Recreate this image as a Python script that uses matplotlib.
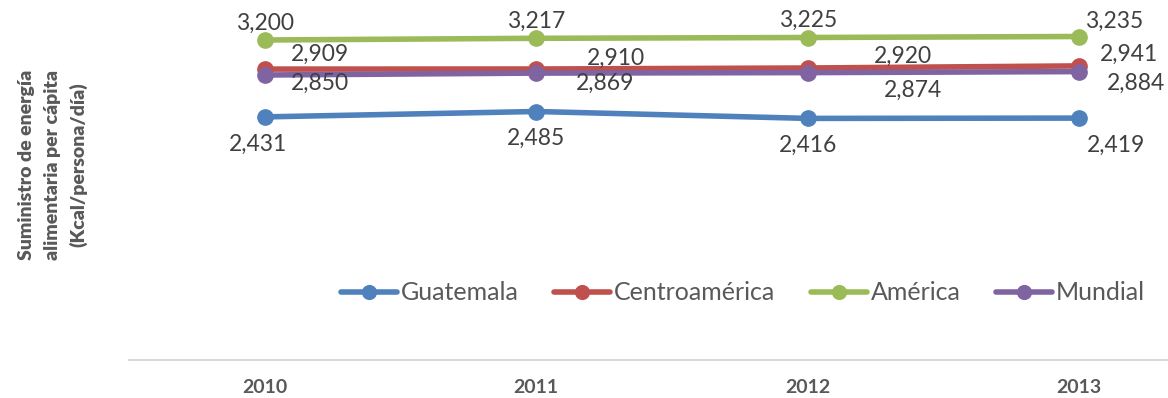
import matplotlib
matplotlib.use("Agg")
import matplotlib.pyplot as plt

years = ["2010", "2011", "2012", "2013"]
guatemala = [2431, 2485, 2416, 2419]
centroamerica = [2909, 2910, 2920, 2941]
america = [3200, 3217, 3225, 3235]
mundial = [2850, 2869, 2874, 2884]

series_names = ["Guatemala", "Centroamérica", "América", "Mundial"]
series_values = [guatemala, centroamerica, america, mundial]
colors = ["#4F81BD", "#C0504D", "#9BBB59", "#8064A2"]

# label offsets (pixels) per series, per point
offsets = [
    [(-7, -27), (0, -27), (0, -27), (37, -27)],
    [(55, 15), (80, 11), (95, 12), (50, 12)],
    [(0, 17), (0, 17), (0, 17), (35, 15)],
    [(55, -8), (69, -10), (105, -18), (57, -12)],
]

FONT = "Lato"
fig = plt.figure(figsize=(11.68, 3.98), dpi=100)
ax = fig.add_axes([129 / 1168, 38 / 398, 1086 / 1168, 350 / 398])
x = list(range(len(years)))

for name, vals, c, offs in zip(series_names, series_values, colors, offsets):
    ax.plot(x, vals, color=c, lw=4, marker="o", markersize=11, label=name,
            solid_capstyle="round", clip_on=False)
    for xi, v, (dx, dy) in zip(x, vals, offs):
        ax.annotate(f"{v:,}", (xi, v), xytext=(dx * 0.72, dy * 0.72),
                    textcoords="offset points", ha="center", va="center",
                    fontsize=16.5, color="#404040", family=FONT)

ax.set_xlim(-0.5, 3.5)
ax.set_ylim(0, 3500)
ax.set_yticks([])
ax.set_xticks(x)
ax.set_xticklabels(years, fontsize=14, fontweight="bold", color="#595959", family=FONT)
ax.tick_params(axis="x", length=0, pad=14)
for s in ["top", "right", "left"]:
    ax.spines[s].set_visible(False)
ax.spines["bottom"].set_color("#D9D9D9")
ax.spines["bottom"].set_linewidth(1.5)

leg = ax.legend(loc="center", bbox_to_anchor=(743 / 1168, 1 - 293 / 398),
                bbox_transform=fig.transFigure, ncol=4, frameon=False,
                prop={"family": FONT, "size": 18}, handlelength=2.25,
                handletextpad=0.16, columnspacing=1.4, markerscale=0.9)
for t in leg.get_texts():
    t.set_color("#595959")

fig.text(53 / 1168, 1 - 165 / 398,
         "Suministro de energía\nalimentaria per cápita\n(Kcal/persona/día)",
         rotation=90, ha="center", va="center", fontsize=14, fontweight="heavy",
         color="#595959", family=FONT, multialignment="center", linespacing=1.6)

fig.savefig("out.png", dpi=100)
